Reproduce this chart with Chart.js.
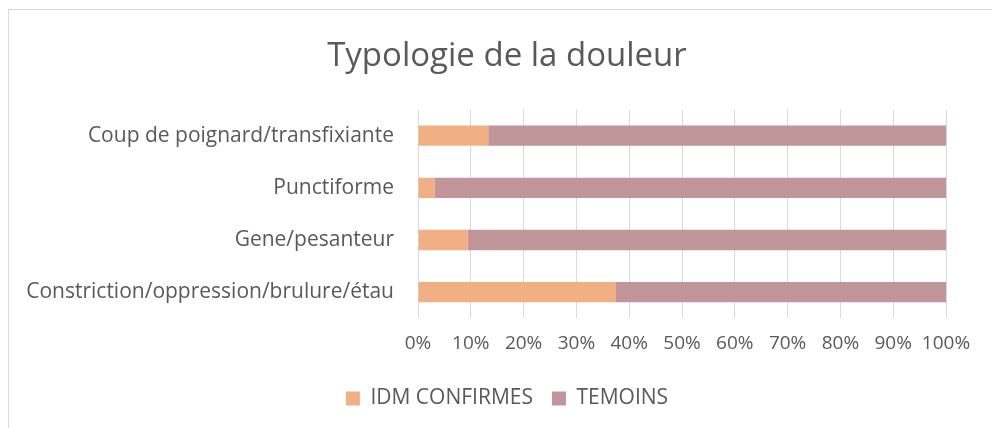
<!DOCTYPE html>
<html>
<head>
<meta charset="utf-8">
<script src="https://cdn.jsdelivr.net/npm/chart.js@4"></script>
<style>
  html, body { margin: 0; padding: 0; background: #fff; }
  #wrap { position: relative; width: 992px; height: 428px; }
  #frame {
    position: absolute; left: 8px; top: 9px; right: 0; bottom: 0;
    border-top: 1px solid #d9d9d9; border-left: 1px solid #d9d9d9;
    pointer-events: none;
  }
</style>
</head>
<body>
<div id="wrap">
  <canvas id="myChart" width="992" height="428"></canvas>
  <div id="frame"></div>
</div>
<script>
const categories = [
  "Coup de poignard/transfixiante",
  "Punctiforme",
  "Gene/pesanteur",
  "Constriction/oppression/brulure/étau",
];
const idmConfirmes = [13.3, 3.2, 9.4, 37.5];
const temoins = [86.7, 96.8, 90.6, 62.5];
const xTicks = [0, 10, 20, 30, 40, 50, 60, 70, 80, 90, 100];

const textColor = "#595959";
const gridColor = "#d9d9d9";
const fontFamily = "'Open Sans', sans-serif";

const ctx = document.getElementById("myChart").getContext("2d");
new Chart(ctx, {
  type: "bar",
  data: {
    labels: categories,
    datasets: [
      {
        label: "IDM CONFIRMES",
        data: idmConfirmes,
        backgroundColor: "#f0b084",
        barPercentage: 0.39,
        categoryPercentage: 1,
      },
      {
        label: "TEMOINS",
        data: temoins,
        backgroundColor: "#c1969b",
        barPercentage: 0.39,
        categoryPercentage: 1,
      },
    ],
  },
  options: {
    indexAxis: "y",
    responsive: false,
    animation: false,
    layout: {
      padding: { left: 22, right: 0, top: 0, bottom: 9 },
    },
    plugins: {
      title: {
        display: true,
        text: "Typologie de la douleur",
        color: textColor,
        font: { family: fontFamily, size: 33, weight: "normal" },
        padding: { top: 37, bottom: 33 },
      },
      legend: {
        position: "bottom",
        labels: {
          color: textColor,
          font: { family: fontFamily, size: 21 },
          boxWidth: 14,
          boxHeight: 14,
          padding: 19,
        },
      },
      tooltip: { enabled: false },
    },
    scales: {
      x: {
        stacked: true,
        min: 0,
        max: 100,
        afterBuildTicks: (axis) => {
          axis.ticks = xTicks.map((v) => ({ value: v }));
        },
        ticks: {
          color: textColor,
          font: { family: fontFamily, size: 19 },
          padding: 14,
          maxRotation: 0,
          callback: (v) => v + "%",
        },
        grid: {
          color: gridColor,
          drawTicks: false,
        },
        border: { display: false },
      },
      y: {
        stacked: true,
        afterFit: (axis) => {
          axis.width = 396;
        },
        ticks: {
          color: textColor,
          font: { family: fontFamily, size: 21 },
          padding: 24,
        },
        grid: { display: false, drawTicks: false },
        border: { display: false },
      },
      yRight: {
        axis: "y",
        position: "right",
        afterFit: (axis) => {
          axis.width = 46;
        },
        ticks: { display: false },
        grid: { display: false, drawTicks: false },
        border: { display: false },
      },
    },
  },
});
</script>
</body>
</html>
